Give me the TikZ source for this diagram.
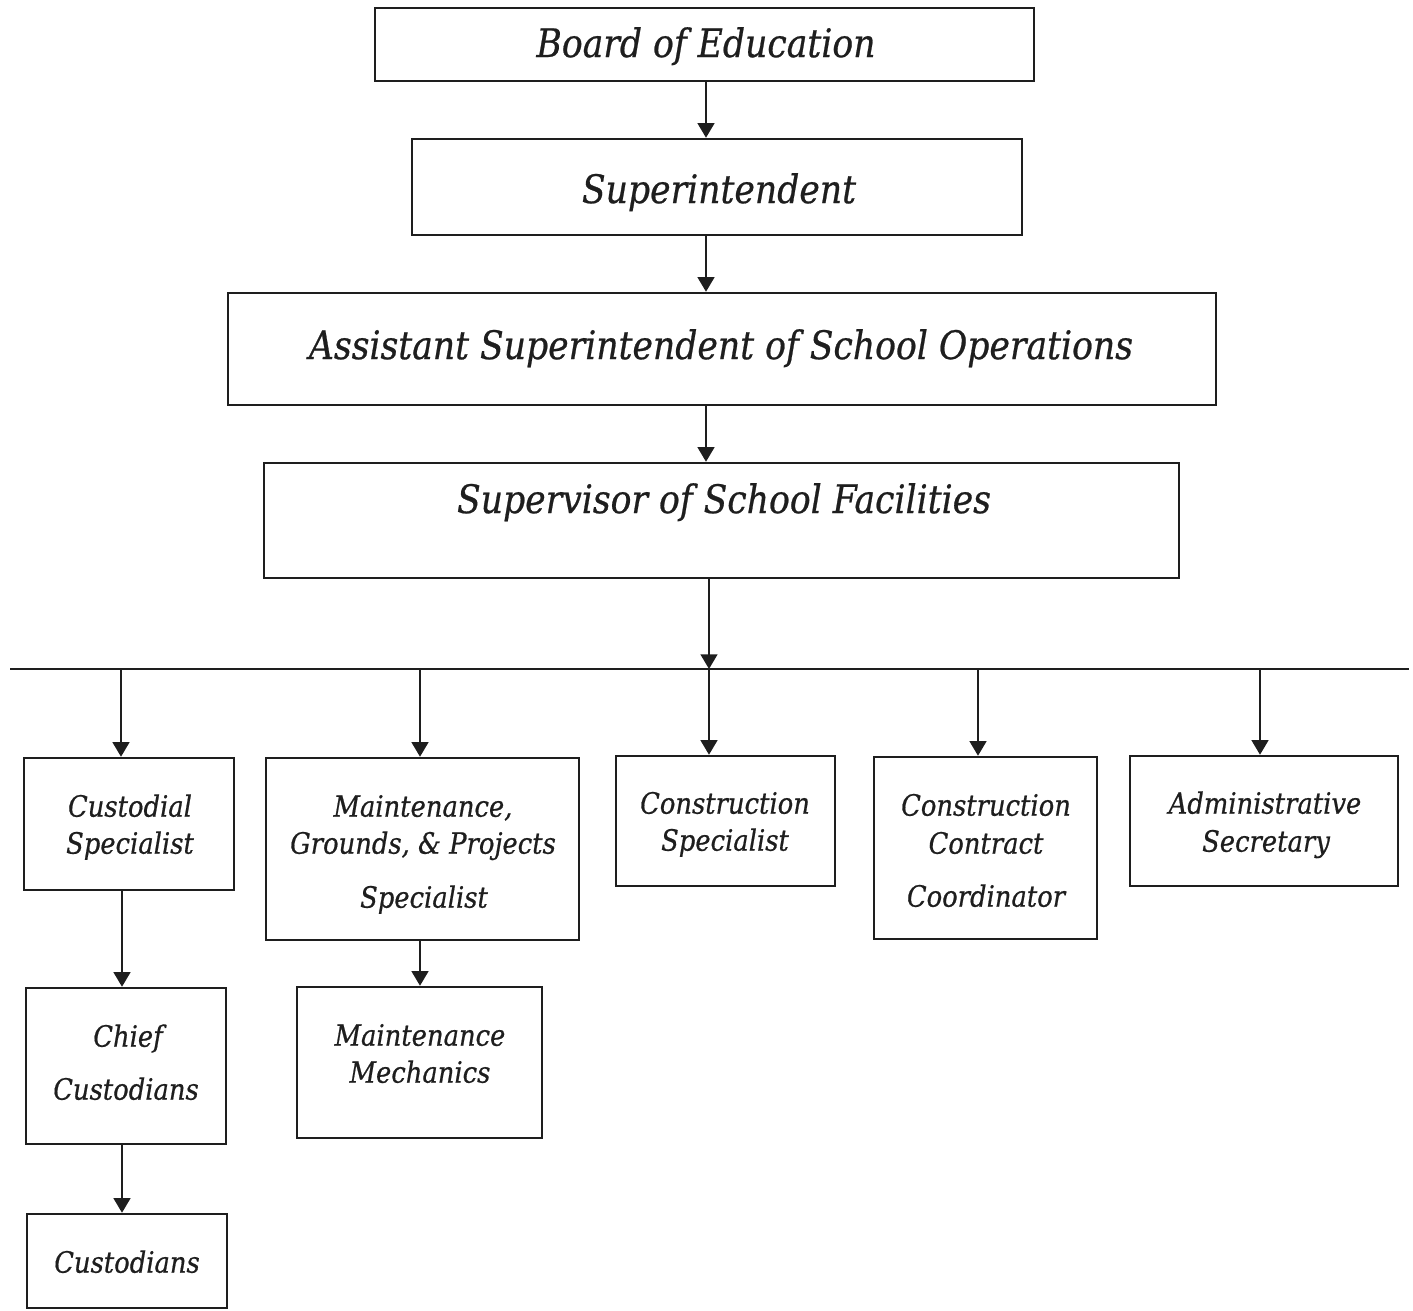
\documentclass[tikz,border=0pt]{standalone}
\usepackage{fontspec}
\setmainfont{DejaVu Serif}[FakeStretch=0.88,FakeBold=0.6]
\usetikzlibrary{arrows.meta,fit}
\definecolor{ink}{HTML}{1E1E1E}
\tikzset{
  box/.style={draw=ink, line width=1.8pt, inner sep=0pt, fill=none},
  arr/.style={draw=ink, line width=1.8pt, -{Triangle[width=12.5pt,length=11pt]}},
  bigtxt/.style={text=ink, font=\fontsize{29.5}{34}\selectfont\itshape, inner sep=0pt, anchor=base, yshift=-9.8pt},
  smalltxt/.style={text=ink, font=\fontsize{22}{26}\selectfont\itshape, inner sep=0pt, anchor=base, yshift=-8pt},
}
\begin{document}
\begin{tikzpicture}[x=0.75pt,y=-0.75pt]
\useasboundingbox (0,0) rectangle (1413,1310);
% main boxes
\node[box, fit={(375,8) (1034,81)}] (boe) {};
\node[box, fit={(412,139) (1022,235)}] (sup) {};
\node[box, fit={(228,293) (1216,405)}] (asst) {};
\node[box, fit={(264,463) (1179,578)}] (svf) {};
\node[bigtxt] (tboe) at (706,44) {Board of Education};
\node[bigtxt] (tsup) at (719,190) {Superintendent};
\node[bigtxt] (tasst) at (721,346) {Assistant Superintendent of School Operations};
\node[bigtxt] (tsvf) at (724,500) {Supervisor of School Facilities};
% lower boxes
\node[box, fit={(24,758) (234,890)}] (cs) {};
\node[box, fit={(266,758) (579,940)}] (mgp) {};
\node[box, fit={(616,756) (835,886)}] (cons) {};
\node[box, fit={(874,757) (1097,939)}] (ccc) {};
\node[box, fit={(1130,756) (1398,886)}] (as) {};
\node[box, fit={(26,988) (226,1144)}] (cc) {};
\node[box, fit={(297,987) (542,1138)}] (mm) {};
\node[box, fit={(27,1214) (227,1308)}] (cu) {};
% texts
\node[smalltxt] (t1a) at (130,806) {Custodial};
\node[smalltxt] (t1b) at (130,843) {Specialist};
\node[smalltxt] (t2a) at (423,806) {Maintenance,};
\node[smalltxt] (t2b) at (423,843) {Grounds, \& Projects};
\node[smalltxt] (t2c) at (424,897) {Specialist};
\node[smalltxt] (t3a) at (725,803) {Construction};
\node[smalltxt] (t3b) at (725,840) {Specialist};
\node[smalltxt] (t4a) at (986,805) {Construction};
\node[smalltxt] (t4b) at (986,843) {Contract};
\node[smalltxt] (t4c) at (986,896) {Coordinator};
\node[smalltxt] (t5a) at (1265,803) {Administrative};
\node[smalltxt] (t5b) at (1266,841) {Secretary};
\node[smalltxt] (t6a) at (128,1036) {Chief};
\node[smalltxt] (t6b) at (126,1089) {Custodians};
\node[smalltxt] (t7a) at (420,1035) {Maintenance};
\node[smalltxt] (t7b) at (420,1072) {Mechanics};
\node[smalltxt] (t8) at (127,1262) {Custodians};
% connector columns
\coordinate (xa) at (706,0);
\coordinate (xb) at (709,0);
\coordinate (x1) at (121,0);
\coordinate (x2) at (420,0);
\coordinate (x3) at (709,0);
\coordinate (x4) at (978,0);
\coordinate (x5) at (1260,0);
\coordinate (x6) at (122,0);
\coordinate (x7) at (420,0);
\coordinate (busL) at (10,669);
\coordinate (busR) at (1409,669);
% connectors
\draw[arr] (boe.south -| xa) -- (sup.north -| xa);
\draw[arr] (sup.south -| xa) -- (asst.north -| xa);
\draw[arr] (asst.south -| xa) -- (svf.north -| xa);
\draw[arr] (svf.south -| xb) -- (busL -| xb);
\draw[draw=ink, line width=1.8pt] (busL) -- (busR);
\draw[arr] (busL -| x1) -- (cs.north -| x1);
\draw[arr] (busL -| x2) -- (mgp.north -| x2);
\draw[arr] (busL -| x3) -- (cons.north -| x3);
\draw[arr] (busL -| x4) -- (ccc.north -| x4);
\draw[arr] (busL -| x5) -- (as.north -| x5);
\draw[arr] (cs.south -| x6) -- (cc.north -| x6);
\draw[arr] (cc.south -| x6) -- (cu.north -| x6);
\draw[arr] (mgp.south -| x7) -- (mm.north -| x7);
\end{tikzpicture}
\end{document}
